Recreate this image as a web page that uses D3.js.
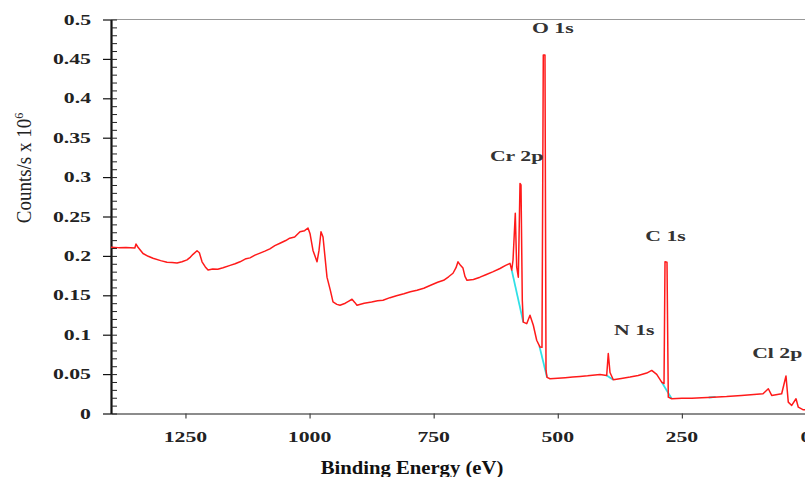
<!DOCTYPE html>
<html>
<head>
<meta charset="utf-8">
<script src="https://cdn.jsdelivr.net/npm/d3@7"></script>
<style>
  body { margin: 0; background: #fff; }
  text { font-family: "Liberation Serif", "Times New Roman", serif; }
  .tick-label { font-weight: bold; font-size: 15px; fill: #222; }
  .peak-label { font-weight: bold; font-size: 15px; fill: #333; }
</style>
</head>
<body>
<div id="chart"></div>
<script>
// survey spectrum, binding energy (eV) vs counts/s x 10^6
const energy = [1400, 1385, 1370, 1352, 1349.6, 1345.6, 1335.5, 1325, 1315.4, 1300, 1287.2, 1277, 1267, 1257, 1246.9, 1240, 1234.8, 1226.7, 1222, 1216.6, 1210, 1204.5, 1195, 1185, 1174.3, 1160, 1150, 1140.1, 1128, 1120, 1110, 1099.8, 1090, 1080, 1070, 1059.6, 1048, 1040, 1030, 1019.3, 1010, 1003.2, 999, 993.1, 985, 981, 977, 972.9, 964.9, 958, 952.8, 945, 938.7, 928, 920, 914.5, 909, 904.5, 890, 875, 863, 852.1, 838, 825, 810, 797, 783.6, 770, 755, 742, 730, 720, 711.1, 705, 701, 696, 691, 687, 682.9, 670, 656.7, 645, 630, 616.4, 605, 596.3, 592.8, 590.2, 585.6, 582.8, 579.5, 576.1, 574.1, 571.5, 569.5, 562.6, 556, 549.3, 542.5, 535.8, 531.8, 529.2, 525.8, 523.7, 521.7, 515.7, 500, 485, 470, 455.3, 440, 425, 415, 401.5, 398.3, 394.8, 388.2, 372, 354.5, 338, 320.9, 310.8, 300.7, 290.7, 286, 284, 280, 277.4, 270.5, 250, 230, 210, 187.3, 160, 130, 105, 86.6, 75.9, 69.1, 49, 40.3, 35.7, 28.8, 20.1, 15.5, 5.4, 0];
const counts = [0.211, 0.2105, 0.2108, 0.2100, 0.2150, 0.2110, 0.2030, 0.1995, 0.1970, 0.1940, 0.1920, 0.1915, 0.1910, 0.1925, 0.1950, 0.1985, 0.2020, 0.2065, 0.2040, 0.1925, 0.1860, 0.1820, 0.1835, 0.1830, 0.1850, 0.1880, 0.1900, 0.1925, 0.1965, 0.1975, 0.2010, 0.2035, 0.2060, 0.2090, 0.2130, 0.2160, 0.2195, 0.2225, 0.2240, 0.2307, 0.2320, 0.2354, 0.2280, 0.2070, 0.1925, 0.2070, 0.2307, 0.2240, 0.1730, 0.1560, 0.1416, 0.1385, 0.1374, 0.1400, 0.1430, 0.1450, 0.1410, 0.1374, 0.1400, 0.1415, 0.1430, 0.1438, 0.1470, 0.1495, 0.1520, 0.1545, 0.1565, 0.1590, 0.1630, 0.1665, 0.1690, 0.1735, 0.1780, 0.1850, 0.1925, 0.1880, 0.1845, 0.1740, 0.1690, 0.1700, 0.1730, 0.1760, 0.1800, 0.1840, 0.1880, 0.1905, 0.1820, 0.1945, 0.2540, 0.1860, 0.1730, 0.2920, 0.2900, 0.1438, 0.1160, 0.1140, 0.1247, 0.1120, 0.0930, 0.0843, 0.0840, 0.4550, 0.4550, 0.0547, 0.0458, 0.0441, 0.0448, 0.0455, 0.0462, 0.0470, 0.0478, 0.0488, 0.0496, 0.0483, 0.0760, 0.0520, 0.0429, 0.0445, 0.0462, 0.0482, 0.0513, 0.0547, 0.0496, 0.0398, 0.0380, 0.1925, 0.1920, 0.0207, 0.0187, 0.0192, 0.0195, 0.0200, 0.0207, 0.0215, 0.0228, 0.0240, 0.0250, 0.0314, 0.0229, 0.0250, 0.0476, 0.0144, 0.0102, 0.0187, 0.0080, 0.0047, 0.0050];

// fitted background, only where it shows under the peaks
const background = [
  [[592.8, 0.182], [569.5, 0.116]],
  [[537, 0.0855], [521.7, 0.0458]],
  [[401.5, 0.0483], [388.2, 0.0429]],
  [[290.7, 0.0398], [270.5, 0.0187]],
  [[196, 0.0203], [182, 0.0210]],
];

const peaks = [
  { name: "O 1s", e: 510, v: 0.483 },
  { name: "Cr 2p", e: 583, v: 0.32 },
  { name: "C 1s", e: 283, v: 0.219 },
  { name: "N 1s", e: 346, v: 0.10 },
  { name: "Cl 2p", e: 58, v: 0.07 },
];

const xTicks = [1250, 1000, 750, 500, 250, 0];
const yTicks = [0, 0.05, 0.1, 0.15, 0.2, 0.25, 0.3, 0.35, 0.4, 0.45, 0.5];
const yMinor = d3.range(0, 0.5001, 0.01);

const W = 805, H = 477;
const stretch = 1.45; // labels in the source are wide

const x = d3.scaleLinear().domain([1400, 0]).range([111, 806]);
const y = d3.scaleLinear().domain([0, 0.5]).range([413.5, 19.5]);

const svg = d3.select("#chart").append("svg")
  .attr("width", W).attr("height", H);

// top frame line
svg.append("line")
  .attr("x1", x(1400)).attr("x2", W)
  .attr("y1", y(0.5)).attr("y2", y(0.5))
  .attr("stroke", "#999").attr("stroke-width", 1);

// x axis
const xAxis = svg.append("g")
  .attr("transform", `translate(0,${y(0)})`)
  .call(d3.axisBottom(x).tickValues(xTicks).tickSize(5).tickSizeOuter(0).tickFormat(""));
xAxis.select(".domain").attr("stroke", "#666").attr("stroke-width", 1.5);
xAxis.selectAll(".tick line").attr("stroke", "#444").attr("stroke-width", 1.2);

svg.append("g").selectAll("text")
  .data(xTicks).enter().append("text")
  .attr("class", "tick-label")
  .attr("text-anchor", "middle")
  .attr("transform", (d) => `translate(${x(d)},442) scale(${stretch},1)`)
  .text((d) => d);

// y axis: majors outward, minors inward
const yAxis = svg.append("g")
  .attr("transform", `translate(${x(1400)},0)`)
  .call(d3.axisLeft(y).tickValues(yTicks).tickSize(8).tickSizeOuter(0).tickFormat(""));
yAxis.select(".domain").attr("stroke", "#111").attr("stroke-width", 2.2);
yAxis.selectAll(".tick line").attr("stroke", "#111").attr("stroke-width", 1.2);

svg.append("g")
  .attr("transform", `translate(${x(1400)},0)`)
  .call(d3.axisRight(y).tickValues(yMinor).tickSize(6).tickSizeOuter(0).tickFormat(""))
  .call((g) => g.select(".domain").remove())
  .selectAll(".tick line").attr("stroke", "#222").attr("stroke-width", 1);

svg.append("g").selectAll("text")
  .data(yTicks).enter().append("text")
  .attr("class", "tick-label")
  .attr("text-anchor", "end")
  .attr("transform", (d) => `translate(91,${y(d) + 5}) scale(${stretch},1)`)
  .text((d) => d);

// axis titles
svg.append("text")
  .attr("text-anchor", "middle")
  .attr("transform", `translate(412,474) scale(1.15,1)`)
  .style("font-weight", "bold").style("font-size", "18px").style("fill", "#111")
  .text("Binding Energy (eV)");

const yTitle = svg.append("text")
  .attr("text-anchor", "middle")
  .attr("transform", `translate(31,168) scale(1.1,1) rotate(-90)`)
  .style("font-size", "19px").style("fill", "#222");
yTitle.append("tspan").text("Counts/s x 10");
yTitle.append("tspan").attr("dy", -7).style("font-size", "12px").text("6");

// spectrum
const line = d3.line().x((d) => x(d[0])).y((d) => y(d[1]));

svg.append("g").selectAll("path")
  .data(background).enter().append("path")
  .attr("d", line)
  .attr("fill", "none").attr("stroke", "#2fe0e6").attr("stroke-width", 1.8);

svg.append("path")
  .datum(d3.zip(energy, counts))
  .attr("d", line)
  .attr("fill", "none")
  .attr("stroke", "#ff1a1a")
  .attr("stroke-width", 1.5)
  .attr("stroke-linejoin", "round");

// peak labels
svg.append("g").selectAll("text")
  .data(peaks).enter().append("text")
  .attr("class", "peak-label")
  .attr("text-anchor", "middle")
  .attr("transform", (d) => `translate(${x(d.e)},${y(d.v)}) scale(${stretch},1)`)
  .text((d) => d.name);
</script>
</body>
</html>
